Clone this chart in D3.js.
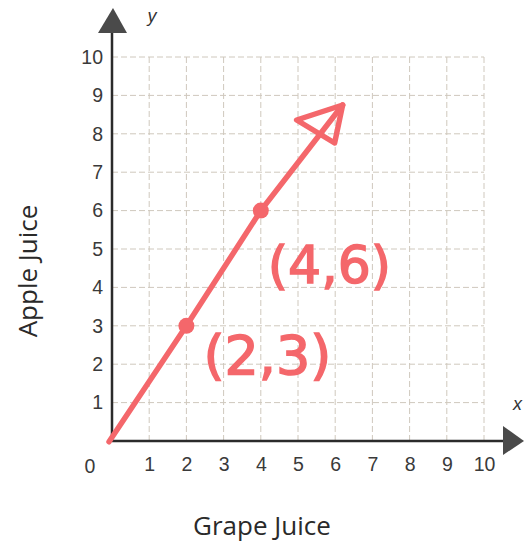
<!DOCTYPE html>
<meta charset="utf-8">
<style>
body { margin: 0; background: #fff; }
.tick text, .zero { font-family: "Liberation Sans", Arial, sans-serif; font-size: 19.5px; fill: #3a3a3a; }
.grid line { stroke: #cfc8bd; stroke-width: 1; stroke-dasharray: 6,3; }
.axisLabel { font-family: "Open Sans", sans-serif; font-size: 26px; fill: #2a2a2a; }
.note { font-family: "DejaVu Sans", sans-serif; fill: #f4676b; stroke: #f4676b; stroke-width: 1.5; }
</style>
<body>
<script src="https://cdn.jsdelivr.net/npm/d3@7"></script>
<script>

// data
var tickValues = [1, 2, 3, 4, 5, 6, 7, 8, 9, 10];
var points = [[2, 3], [4, 6]];
var pointLabels = ["(2,3)", "(4,6)"];
var rayLine = [[-0.08, -0.02], [2, 3], [4, 6], [6.2, 8.75]];

var width = 524, height = 546;
var red = "#f4676b";

var svg = d3.select("body").append("svg")
    .attr("width", width)
    .attr("height", height);

// scales
var x = d3.scaleLinear().domain([0, 10]).range([112, 484]);
var y = d3.scaleLinear().domain([0, 10]).range([441, 57]);

// grid
svg.append("g")
    .attr("class", "grid")
    .selectAll("line.v")
    .data(tickValues)
  .enter().append("line")
    .attr("x1", function(d) { return x(d); })
    .attr("x2", function(d) { return x(d); })
    .attr("y1", y(0))
    .attr("y2", y(10));

svg.append("g")
    .attr("class", "grid")
    .selectAll("line.h")
    .data(tickValues)
  .enter().append("line")
    .attr("x1", x(0))
    .attr("x2", x(10))
    .attr("y1", function(d) { return y(d); })
    .attr("y2", function(d) { return y(d); });

// tick labels
var xAxis = svg.append("g")
    .attr("transform", "translate(0," + y(0) + ")")
    .call(d3.axisBottom(x).tickValues(tickValues).tickSize(0).tickPadding(16));
xAxis.select(".domain").remove();

var yAxis = svg.append("g")
    .attr("transform", "translate(" + x(0) + ",0)")
    .call(d3.axisLeft(y).tickValues(tickValues).tickSize(0).tickPadding(9));
yAxis.select(".domain").remove();

svg.append("text")
    .attr("class", "zero")
    .attr("x", 90)
    .attr("y", 473)
    .attr("text-anchor", "middle")
    .text("0");

// axes with arrows
svg.append("line")
    .attr("x1", x(0)).attr("x2", 506)
    .attr("y1", y(0)).attr("y2", y(0))
    .attr("stroke", "#2b2b2b").attr("stroke-width", 2.5);
svg.append("path")
    .attr("d", "M503," + (y(0) - 15) + "L524," + y(0) + "L503," + (y(0) + 14) + "Z")
    .attr("fill", "#4a4a4a");

svg.append("line")
    .attr("x1", x(0)).attr("x2", x(0))
    .attr("y1", y(0)).attr("y2", 30)
    .attr("stroke", "#2b2b2b").attr("stroke-width", 2.5);
svg.append("path")
    .attr("d", "M" + (x(0) - 14) + ",33L" + (x(0) + 1) + ",8L" + (x(0) + 15) + ",33Z")
    .attr("fill", "#4a4a4a");

svg.append("text")
    .attr("x", 152).attr("y", 22)
    .attr("text-anchor", "middle")
    .style("font-family", "Liberation Sans, Arial, sans-serif")
    .style("font-style", "italic")
    .style("font-size", "18px")
    .style("fill", "#333")
    .text("y");

svg.append("text")
    .attr("x", 513).attr("y", 410)
    .style("font-family", "Liberation Sans, Arial, sans-serif")
    .style("font-style", "italic")
    .style("font-size", "18px")
    .style("fill", "#333")
    .text("x");

// axis titles
svg.append("text")
    .attr("class", "axisLabel")
    .attr("x", 262).attr("y", 535)
    .attr("text-anchor", "middle")
    .text("Grape Juice");

svg.append("text")
    .attr("class", "axisLabel")
    .attr("transform", "translate(37,271) rotate(-90)")
    .attr("text-anchor", "middle")
    .text("Apple Juice");

// hand drawn ray
var line = d3.line()
    .x(function(d) { return x(d[0]); })
    .y(function(d) { return y(d[1]); });

svg.append("path")
    .datum(rayLine)
    .attr("d", line)
    .attr("fill", "none")
    .attr("stroke", red)
    .attr("stroke-width", 5.5)
    .attr("stroke-linecap", "round");

// open arrow head at the end of the ray
var tip = rayLine[rayLine.length - 1];
var tx = x(tip[0]), ty = y(tip[1]);
svg.append("path")
    .attr("d", "M" + (tx - 46) + "," + (ty + 15) + "L" + tx + "," + ty + "L" + (tx - 8) + "," + (ty + 38) + "Z")
    .attr("fill", "none")
    .attr("stroke", red)
    .attr("stroke-width", 5.5)
    .attr("stroke-linejoin", "round");

// points
svg.selectAll(".pt")
    .data(points)
  .enter().append("circle")
    .attr("class", "pt")
    .attr("cx", function(d) { return x(d[0]); })
    .attr("cy", function(d) { return y(d[1]); })
    .attr("r", 8)
    .attr("fill", red);

// point labels
svg.selectAll(".note")
    .data(points)
  .enter().append("text")
    .attr("class", "note")
    .attr("x", function(d, i) { return x(d[0]) + (i == 0 ? 17 : 7); })
    .attr("y", function(d, i) { return y(d[1]) + (i == 0 ? 48 : 72); })
    .style("font-size", function(d, i) { return i == 0 ? "54px" : "52px"; })
    .text(function(d, i) { return pointLabels[i]; });

</script>
</body>
